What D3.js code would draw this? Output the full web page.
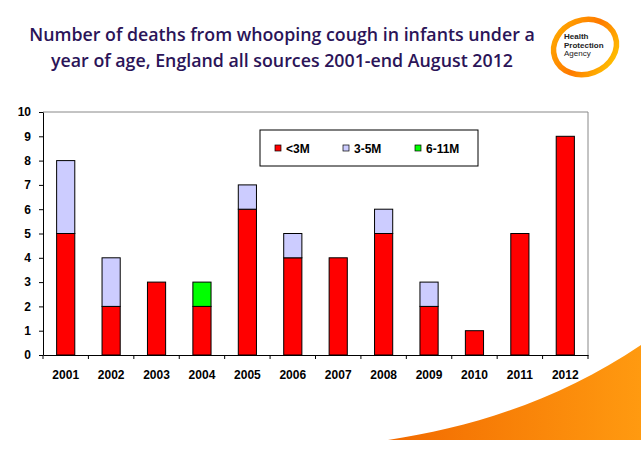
<!DOCTYPE html>
<html><head><meta charset="utf-8">
<script src="https://cdn.jsdelivr.net/npm/d3@7"></script>
<style>body{margin:0;background:#fff}svg{display:block}</style>
</head><body>
<script>
const years = ["2001","2002","2003","2004","2005","2006","2007","2008","2009","2010","2011","2012"];
const under3M = [5,2,3,2,6,4,4,5,2,1,5,9];
const m3to5 = [3,2,0,0,1,1,0,1,1,0,0,0];
const m6to11 = [0,0,0,1,0,0,0,0,0,0,0,0];
const seriesNames = ["<3M","3-5M","6-11M"];
const colors = ["#ff0000","#ccccff","#00ff00"];
const yTicks = [0,1,2,3,4,5,6,7,8,9,10];
const titleLines = ["Number of deaths from whooping cough in infants under a","year of age, England all sources 2001-end August 2012"];

const W=641,H=452;
const svg=d3.select("body").append("svg").attr("width",W).attr("height",H);
const defs=svg.append("defs");
const g1=defs.append("linearGradient").attr("id","sw").attr("x1","0").attr("x2","1").attr("y1","0").attr("y2","0");
g1.append("stop").attr("offset","0").attr("stop-color","#f26a00");
g1.append("stop").attr("offset","1").attr("stop-color","#ff9a10");

// orange swoosh
svg.append("path").attr("d","M388,440 C470,428 560,400 641,345 L641,440 Z").attr("fill","url(#sw)");

// title
svg.selectAll("text.title").data(titleLines).enter().append("text")
  .attr("x",282).attr("y",(d,i)=>41+i*26).attr("text-anchor","middle")
  .attr("font-family","Open Sans, sans-serif").attr("font-weight",600).attr("font-size",17.8)
  .attr("fill","#2b1458").text(d=>d);

// logo
const lg=svg.append("g").attr("transform","translate(585,47)");
const rg=defs.append("linearGradient").attr("id","ring").attr("x1","0").attr("x2","1").attr("y1","0").attr("y2","1");
rg.append("stop").attr("offset","0").attr("stop-color","#ffb000");
rg.append("stop").attr("offset","0.5").attr("stop-color","#ff7a00");
rg.append("stop").attr("offset","1").attr("stop-color","#ffd000");
lg.append("ellipse").attr("rx",32).attr("ry",27).attr("fill","none").attr("stroke","url(#ring)").attr("stroke-width",5.5).attr("transform","rotate(-20)");
const lf="Liberation Sans, Arial";
lg.append("text").attr("x",-21).attr("y",-8).attr("font-family",lf).attr("font-weight","bold").attr("font-size",8).attr("fill","#222").text("Health");
lg.append("text").attr("x",-21).attr("y",0.5).attr("font-family",lf).attr("font-weight","bold").attr("font-size",8).attr("fill","#222").text("Protection");
lg.append("text").attr("x",-21).attr("y",9).attr("font-family",lf).attr("font-size",8).attr("fill","#222").text("Agency");

// chart
const L=43,R=588,T=112,B=355;
const x=d3.scaleBand().domain(years).range([L,R]).paddingInner(0.6).paddingOuter(0.3);
const y=d3.scaleLinear().domain([0,10]).range([B,T]);

svg.append("path").attr("d",`M${L},${T}H${R}V${B}`).attr("fill","none").attr("stroke","#888").attr("stroke-width",1);

const data=years.map((yr,i)=>({year:yr,"<3M":under3M[i],"3-5M":m3to5[i],"6-11M":m6to11[i]}));
const stack=d3.stack().keys(seriesNames)(data);
svg.append("g").selectAll("g").data(stack).enter().append("g").attr("fill",(d,i)=>colors[i])
  .selectAll("rect").data(d=>d.filter(p=>p[1]-p[0]>0)).enter().append("rect")
  .attr("x",d=>x(d.data.year)).attr("width",x.bandwidth())
  .attr("y",d=>y(d[1])).attr("height",d=>y(d[0])-y(d[1]))
  .attr("stroke","#000").attr("stroke-width",1);

const ya=svg.append("g").attr("transform",`translate(${L},0)`).call(d3.axisLeft(y).tickValues(yTicks).tickSize(4).tickSizeOuter(0));
ya.select(".domain").attr("stroke","#000");
ya.selectAll("text").attr("font-family",lf).attr("font-weight","bold").attr("font-size",12).attr("fill","#000").attr("x",-12);

const xa=svg.append("g").attr("transform",`translate(0,${B})`).call(d3.axisBottom(x).tickSize(0).tickSizeOuter(0));
xa.select(".domain").attr("stroke","#000");
xa.selectAll("text").attr("font-family",lf).attr("font-weight","bold").attr("font-size",12).attr("fill","#000").attr("dy","1.75em");
// category separators
svg.append("g").selectAll("line").data(d3.range(years.length+1)).enter().append("line")
  .attr("x1",i=>L+i*(R-L)/years.length).attr("x2",i=>L+i*(R-L)/years.length)
  .attr("y1",B).attr("y2",B+4).attr("stroke","#000");

// legend
const lgd=svg.append("g").attr("transform","translate(260,130)");
lgd.append("rect").attr("width",218).attr("height",36).attr("fill","#fff").attr("stroke","#000");
const lx=[15,83,155];
seriesNames.forEach((s,i)=>{
  lgd.append("rect").attr("x",lx[i]).attr("y",15).attr("width",6).attr("height",6).attr("fill",colors[i]).attr("stroke","#000").attr("stroke-width",0.7);
  lgd.append("text").attr("x",lx[i]+11).attr("y",22.5).attr("font-family",lf).attr("font-weight","bold").attr("font-size",12).text(s);
});
</script>
</body></html>
